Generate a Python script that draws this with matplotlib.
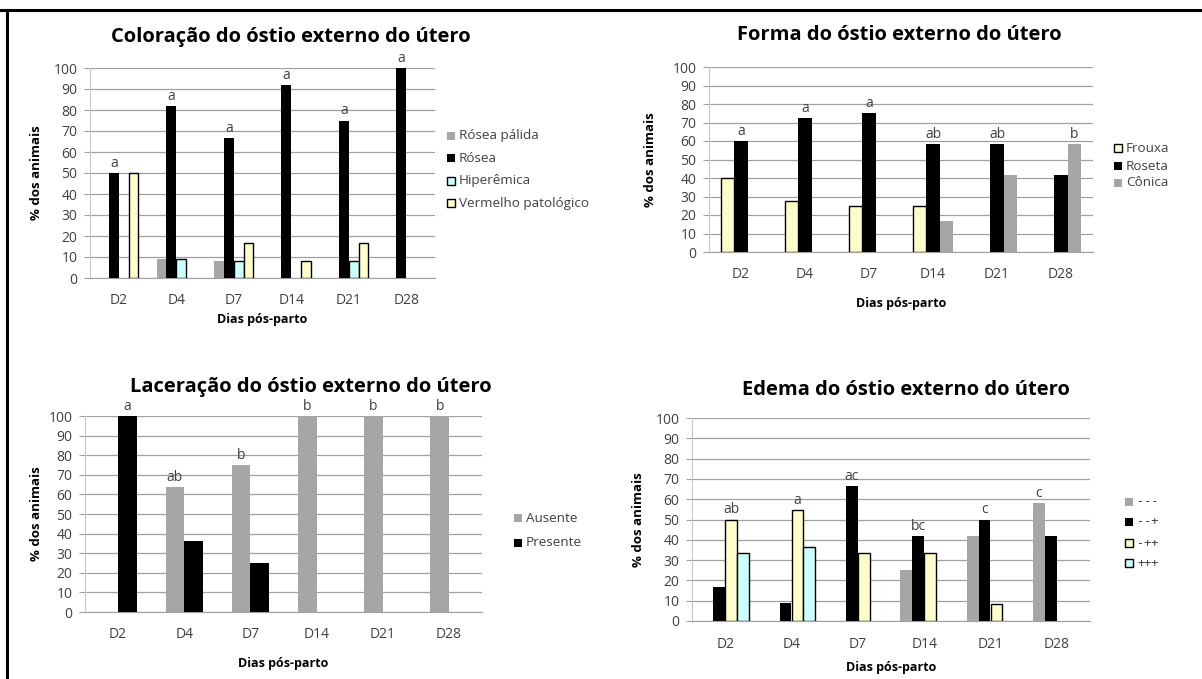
import numpy as np
import matplotlib.pyplot as plt
from matplotlib.lines import Line2D
from matplotlib.patches import Rectangle

plt.rcParams['font.family'] = ['Open Sans', 'DejaVu Sans']

W, H = 1202, 679

dias = ["D2", "D4", "D7", "D14", "D21", "D28"]

# Coloração
cor_series = ["Rósea pálida", "Rósea", "Hiperêmica", "Vermelho patológico"]
rosea_palida = [0, 9.1, 8.3, 0, 0, 0]
rosea = [50, 81.8, 66.7, 91.7, 75, 100]
hiperemica = [0, 9.1, 8.3, 0, 8.3, 0]
vermelho = [50, 0, 16.7, 8.3, 16.7, 0]
cor_letras = ["a", "a", "a", "a", "a", "a"]

# Forma
forma_series = ["Frouxa", "Roseta", "Cônica"]
frouxa = [40, 27.3, 25, 25, 0, 0]
roseta = [60, 72.7, 75, 58.3, 58.3, 41.7]
conica = [0, 0, 0, 16.7, 41.7, 58.3]
forma_letras = ["a", "a", "a", "ab", "ab", "b"]

# Laceração
lac_series = ["Ausente", "Presente"]
ausente = [0, 63.6, 75, 100, 100, 100]
presente = [100, 36.4, 25, 0, 0, 0]
lac_letras = ["a", "ab", "b", "b", "b", "b"]

# Edema
edema_series = ["---", "--+", "-++", "+++"]
ed_0 = [0, 0, 0, 25, 41.7, 58.3]
ed_1 = [16.7, 9.1, 66.7, 41.7, 50, 41.7]
ed_2 = [50, 54.5, 33.3, 33.3, 8.3, 0]
ed_3 = [33.3, 36.4, 0, 0, 0, 0]
edema_letras = ["ab", "a", "ac", "bc", "c", "c"]

CINZA = "#a6a6a6"
PRETO = "#000000"
CIANO = "#ccffff"
AMARELO = "#ffffcc"
TXT = "#404040"


def px_axes(fig, l, r, t, b):
    return fig.add_axes([l / W, 1 - b / H, (r - l) / W, (b - t) / H])


def estilo(cor):
    # barras claras levam contorno preto
    if cor in (AMARELO, CIANO):
        return PRETO, 1.0
    return cor, 0


def grafico(fig, rect, titulo, series, nomes, cores, letras, largura,
            titulo_xy, ylab_x, xtick_y, xlab_y, leg_x, leg_ys):
    ax = px_axes(fig, *rect)
    n = len(series)
    x = np.arange(len(dias))
    offs = (np.arange(n) - (n - 1) / 2) * largura
    for vals, cor, off in zip(series, cores, offs):
        borda, lw = estilo(cor)
        lws = [lw if v > 0 else 0 for v in vals]
        ax.bar(x + off, vals, width=largura, color=cor, edgecolor=borda,
               linewidth=lws, zorder=3)
    # letras sobre a maior barra de cada dia
    dados = np.array(series)
    for i, letra in enumerate(letras):
        k = int(np.argmax(dados[:, i]))
        ax.text(x[i] + offs[k], dados[k, i] + 1.0, letra, ha="center",
                va="bottom", fontsize=10, color=TXT)
    ax.set_xlim(-0.5, len(dias) - 0.5)
    ax.set_ylim(0, 100)
    ax.set_yticks(range(0, 101, 10))
    ax.set_xticks(x)
    ax.set_xticklabels([])
    ax.yaxis.grid(True, color="#a0a0a0", linewidth=0.9, zorder=0)
    ax.tick_params(axis="y", length=4, color="#a0a0a0", labelsize=10,
                   labelcolor=TXT, pad=5)
    ax.tick_params(axis="x", length=0)
    for s in ("top", "right"):
        ax.spines[s].set_visible(False)
    ax.spines["left"].set_color("#c8c8c8")
    ax.spines["bottom"].set_color("#a0a0a0")
    ax.set_axisbelow(True)

    # rótulos do eixo x
    l, r = rect[0], rect[1]
    for i, d in enumerate(dias):
        xp = l + (r - l) * (i + 0.5) / len(dias)
        fig.text(xp / W, 1 - xtick_y / H, d, ha="center", va="center",
                 fontsize=10, color=TXT)
    fig.text((l + r) / 2 / W, 1 - xlab_y / H, "Dias pós-parto", ha="center",
             va="center", fontsize=9, fontweight="bold")
    fig.text(ylab_x / W, 1 - (rect[2] + rect[3]) / 2 / H, "% dos animais",
             rotation=90, ha="center", va="center", fontsize=9.5,
             fontweight="bold")
    fig.text(titulo_xy[0] / W, 1 - titulo_xy[1] / H, titulo, ha="center",
             va="center", fontsize=14.5, fontweight="bold")

    # legenda: quadrado + texto
    q = 8
    for nome, cor, yl in zip(nomes, cores, leg_ys):
        borda, lw = estilo(cor)
        fig.add_artist(Rectangle((leg_x / W, 1 - (yl + q / 2) / H), q / W,
                                 q / H, facecolor=cor, edgecolor=borda,
                                 linewidth=lw, transform=fig.transFigure))
        # sinais +/- em fonte mono para os hífens não se colarem
        fam = ["DejaVu Sans Mono"] if "-" in nome or "+" in nome else None
        fig.text((leg_x + q + 4) / W, 1 - yl / H, nome, ha="left",
                 va="center", fontsize=8.5 if fam else 9.7, color=TXT,
                 family=fam)
    return ax


fig = plt.figure(figsize=(W / 100, H / 100), dpi=100)

grafico(fig, (90, 435, 68, 278), "Coloração do óstio externo do útero",
        [rosea_palida, rosea, hiperemica, vermelho], cor_series,
        [CINZA, PRETO, CIANO, AMARELO], cor_letras, 0.17,
        (291, 37), 36, 301, 320, 447, [136, 158, 181, 203])

grafico(fig, (709, 1093, 67, 252), "Forma do óstio externo do útero",
        [frouxa, roseta, conica], forma_series,
        [AMARELO, PRETO, CINZA], forma_letras, 0.21,
        (899, 35), 650, 275, 303, 1114, [148, 166, 183])

grafico(fig, (85, 482, 416, 612), "Laceração do óstio externo do útero",
        [ausente, presente], lac_series,
        [CINZA, PRETO], lac_letras, 0.28,
        (311, 387), 36, 635, 663, 514, [518, 543])

grafico(fig, (692, 1090, 418, 621), "Edema do óstio externo do útero",
        [ed_0, ed_1, ed_2, ed_3], edema_series,
        [CINZA, PRETO, AMARELO, CIANO], edema_letras, 0.18,
        (906, 390), 638, 644, 667, 1125, [502, 522, 543, 563])

# moldura: linha superior e lateral esquerda
fig.add_artist(Line2D([0, 1], [1 - 10 / H, 1 - 10 / H], color="black",
                      linewidth=2.2, transform=fig.transFigure))
fig.add_artist(Line2D([7 / W, 7 / W], [0, 1 - 10 / H], color="black",
                      linewidth=2.2, transform=fig.transFigure))

fig.savefig("out.png", dpi=100)
